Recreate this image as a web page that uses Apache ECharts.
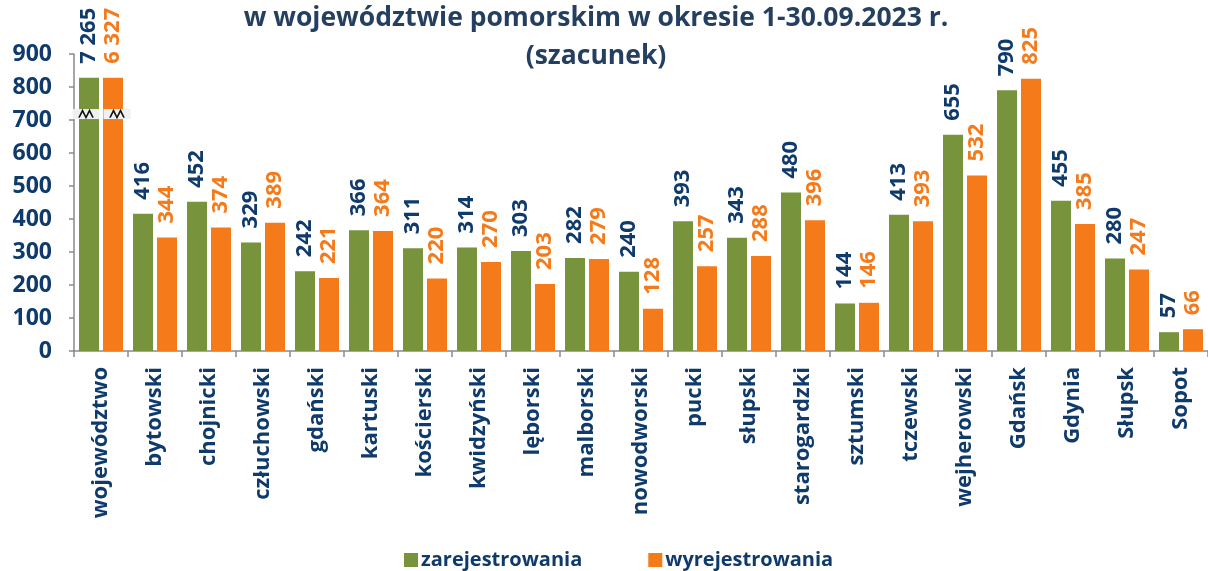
<!DOCTYPE html>
<html>
<head>
<meta charset="utf-8">
<script src="https://cdn.jsdelivr.net/npm/echarts@6/dist/echarts.min.js"></script>
<style>
html,body{margin:0;padding:0;background:#fff;}
#chart{width:1208px;height:571px;}
</style>
</head>
<body>
<div id="chart"></div>
<script>
const titleLines = ['w województwie pomorskim w okresie 1-30.09.2023 r.', '(szacunek)'];
const categories = ['województwo','bytowski','chojnicki','człuchowski','gdański','kartuski','kościerski','kwidzyński','lęborski','malborski','nowodworski','pucki','słupski','starogardzki','sztumski','tczewski','wejherowski','Gdańsk','Gdynia','Słupsk','Sopot'];
const zarejestrowania = [7265,416,452,329,242,366,311,314,303,282,240,393,343,480,144,413,655,790,455,280,57];
const wyrejestrowania = [6327,344,374,389,221,364,220,270,203,279,128,257,288,396,146,393,532,825,385,247,66];
const seriesNames = ['zarejestrowania','wyrejestrowania'];
const yTicks = {min: 0, max: 900, interval: 100};
const BREAK_AT = 828;   // bars above the axis range are drawn broken at this height
const BREAK_MARK = 718; // height of the break marker

const NAVY = '#0F3A6C';
const GREEN = '#77933C';
const ORANGE = '#F47A1A';
const FONT = '"Open Sans", "Liberation Sans", sans-serif';

function fmt(v){ return String(v).replace(/\B(?=(\d{3})+(?!\d))/g, ' '); }

function makeSeries(name, raw, color, labelColor, markOffset){
  return {
    name: name,
    type: 'bar',
    barWidth: 20,
    barGap: '20%',
    data: raw.map(v => Math.min(v, BREAK_AT)),
    itemStyle: {color: color},
    label: {
      show: true,
      position: 'top',
      rotate: 90,
      align: 'left',
      verticalAlign: 'middle',
      distance: 14,
      fontFamily: FONT,
      fontWeight: 'bold',
      fontSize: 22,
      color: labelColor,
      formatter: p => fmt(raw[p.dataIndex])
    },
    markPoint: {
      silent: true,
      animation: false,
      label: {show: false},
      data: raw.map((v, i) => v > BREAK_AT ? [
        {coord: [i, BREAK_MARK], symbol: 'rect', symbolSize: [27, 10], symbolOffset: [markOffset, 0],
         itemStyle: {color: '#F0F0F0'}},
        {coord: [i, BREAK_MARK], symbol: 'path://M0,10L3,0L6,10L9,0L12,10', symbolSize: [14, 7], symbolOffset: [markOffset, 0],
         itemStyle: {color: 'none', borderColor: '#111', borderWidth: 1.2}}
      ] : []).flat()
    }
  };
}

const chart = echarts.init(document.getElementById('chart'), null, {renderer: 'canvas'});
chart.setOption({
  animation: false,
  backgroundColor: '#fff',
  title: {
    text: titleLines.join('\n'),
    left: 591,
    top: -6,
    textAlign: 'center',
    textStyle: {fontFamily: FONT, fontWeight: 'bold', fontSize: 26.5, lineHeight: 38, color: '#243F60'}
  },
  legend: {
    left: 399,
    top: 545,
    icon: 'rect',
    itemWidth: 14,
    itemHeight: 14,
    itemGap: 66,
    textStyle: {fontFamily: FONT, fontWeight: 'bold', fontSize: 20, color: NAVY, padding: [0, 0, 0, -2]},
    data: seriesNames
  },
  grid: {left: 74, top: 54, width: 1136, bottom: 220, containLabel: false},
  xAxis: {
    type: 'category',
    data: categories,
    axisLine: {lineStyle: {color: '#8A8A8A', width: 1.5}},
    axisTick: {show: true, length: 6, lineStyle: {color: '#8A8A8A', width: 1.5}},
    axisLabel: {interval: 0, rotate: 90, margin: 16, fontFamily: FONT, fontWeight: 'bold', fontSize: 22, color: NAVY}
  },
  yAxis: {
    type: 'value',
    min: yTicks.min, max: yTicks.max, interval: yTicks.interval,
    splitLine: {show: false},
    axisLine: {show: true, lineStyle: {color: '#8A8A8A', width: 1.5}},
    axisTick: {show: true, length: 5, lineStyle: {color: '#8A8A8A', width: 1.5}},
    axisLabel: {margin: 22, fontFamily: FONT, fontWeight: 'bold', fontSize: 23, color: NAVY}
  },
  series: [
    makeSeries(seriesNames[0], zarejestrowania, GREEN, NAVY, -3),
    makeSeries(seriesNames[1], wyrejestrowania, ORANGE, ORANGE, 4)
  ]
});
</script>
</body>
</html>
